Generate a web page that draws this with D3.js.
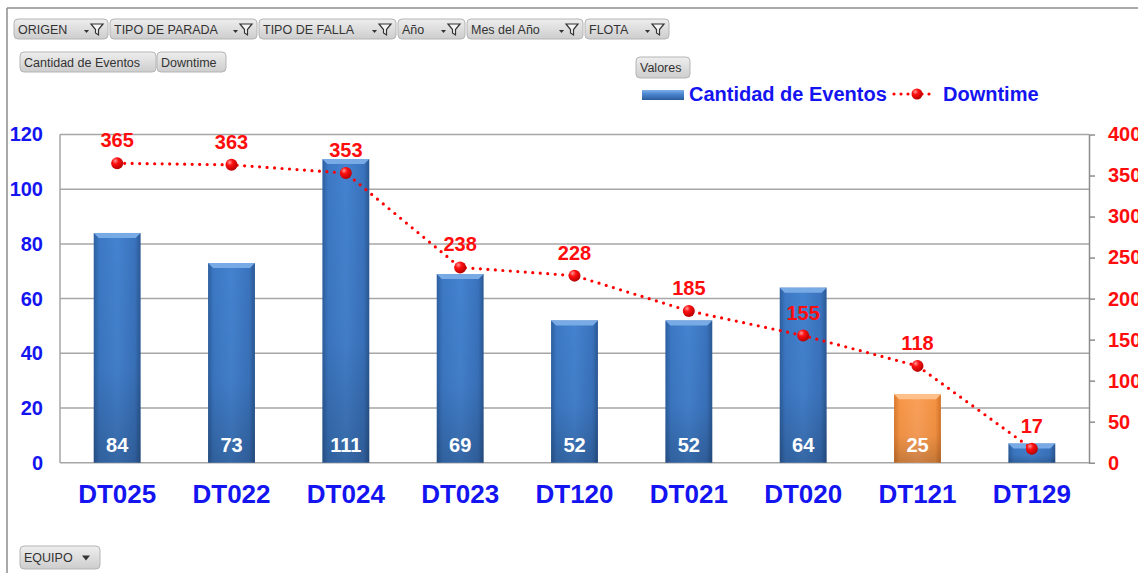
<!DOCTYPE html>
<html>
<head>
<meta charset="utf-8">
<script src="https://cdn.jsdelivr.net/npm/d3@7"></script>
<style>
  body { margin: 0; background: #fff; }
  svg { display: block; }
</style>
</head>
<body>
<div id="chart"></div>
<script>
var equipos = ["DT025", "DT022", "DT024", "DT023", "DT120", "DT021", "DT020", "DT121", "DT129"];
var cantidadEventos = [84, 73, 111, 69, 52, 52, 64, 25, 7];
var downtime = [365, 363, 353, 238, 228, 185, 155, 118, 17];
var leftTicks = [0, 20, 40, 60, 80, 100, 120];
var rightTicks = [0, 50, 100, 150, 200, 250, 300, 350, 400];
var filtros = ["ORIGEN", "TIPO DE PARADA", "TIPO DE FALLA", "Año", "Mes del Año", "FLOTA"];
var filtroAnchos = [94, 147, 137, 67, 116, 84];
var valoresBotones = ["Cantidad de Eventos", "Downtime"];
var resaltado = "DT121";

drawChart();

function drawChart() {
  var w = 1138, h = 573;
  var pLeft = 60, pRight = 1089, pTop = 134.5, pBottom = 462.7;
  var font = "Liberation Sans, Arial, sans-serif";

  var svg = d3.select("#chart").append("svg")
    .attr("width", w)
    .attr("height", h);

  var defs = svg.append("defs");

  function grad(id, vertical, stops) {
    var g = defs.append("linearGradient").attr("id", id)
      .attr("x1", "0").attr("y1", "0")
      .attr("x2", vertical ? "0" : "1").attr("y2", vertical ? "1" : "0");
    stops.forEach(function(s) {
      g.append("stop").attr("offset", s[0]).attr("stop-color", s[1]);
    });
  }
  grad("barBlue", false, [[0, "#2d5f9f"], [0.12, "#3c78c4"], [0.5, "#4482cf"], [0.88, "#3a73bd"], [1, "#2a5894"]]);
  grad("barOrange", false, [[0, "#d9782e"], [0.12, "#f79646"], [0.5, "#fba05a"], [0.88, "#f59342"], [1, "#d4742b"]]);
  grad("shadeDown", true, [[0, "rgba(0,0,0,0)"], [0.6, "rgba(0,0,0,0.04)"], [1, "rgba(0,0,0,0.2)"]]);
  grad("btnGrad", true, [[0, "#eeeeee"], [1, "#cdcdcd"]]);
  grad("legendBar", true, [[0, "#7fb0e8"], [0.4, "#4a86d0"], [1, "#2c5c9c"]]);
  var rg = defs.append("radialGradient").attr("id", "dotGrad")
    .attr("cx", "0.35").attr("cy", "0.3").attr("r", "0.75");
  rg.append("stop").attr("offset", 0).attr("stop-color", "#ff9a9a");
  rg.append("stop").attr("offset", 0.35).attr("stop-color", "#ff1010");
  rg.append("stop").attr("offset", 1).attr("stop-color", "#b00000");

  // marco
  svg.append("line").attr("x1", 7).attr("x2", 7).attr("y1", 8).attr("y2", h)
    .attr("stroke", "#8c8c8c").attr("stroke-width", 1.5);
  svg.append("line").attr("x1", 7).attr("x2", w).attr("y1", 8).attr("y2", 8)
    .attr("stroke", "#8c8c8c").attr("stroke-width", 1.5);

  // botones de filtro
  function boton(x, y, bw, bh, texto, icono) {
    var g = svg.append("g").attr("transform", "translate(" + x + "," + y + ")");
    g.append("rect").attr("width", bw).attr("height", bh).attr("rx", 4)
      .attr("fill", "url(#btnGrad)").attr("stroke", "#b5b5b5");
    g.append("text").attr("x", 4).attr("y", bh / 2 + 4.5)
      .attr("font-family", font)
      .attr("font-size", "12.5px").attr("fill", "#333").text(texto);
    if (icono === "filtro") {
      var ix = bw - 24;
      g.append("path").attr("d", "M" + ix + "," + (bh / 2 + 1) + " l5,0 l-2.5,3 z").attr("fill", "#333");
      g.append("path")
        .attr("d", "M" + (ix + 7) + "," + (bh / 2 - 5) + " l12,0 l-4.5,5.5 l0,5.5 l-3,-2 l0,-3.5 z")
        .attr("fill", "#f4f4f4").attr("stroke", "#333").attr("stroke-width", 1.2);
    } else if (icono === "flecha") {
      g.append("path").attr("d", "M" + (bw - 18) + "," + (bh / 2 - 2) + " l8,0 l-4,5 z").attr("fill", "#333");
    }
  }
  var fx = 14;
  filtros.forEach(function(f, i) {
    boton(fx, 19, filtroAnchos[i], 20, f, "filtro");
    fx += filtroAnchos[i] + 2;
  });
  boton(20, 52, 136, 20, valoresBotones[0]);
  boton(157, 52, 69, 20, valoresBotones[1]);
  boton(636, 57, 54, 21, "Valores");
  boton(20, 546, 80, 23, "EQUIPO", "flecha");

  // escalas
  var xScale = d3.scaleBand()
    .domain(equipos)
    .range([pLeft, pRight])
    .paddingInner(0.59)
    .paddingOuter(0.295);

  var yLeft = d3.scaleLinear().domain([0, 120]).range([pBottom, pTop]);
  var yRight = d3.scaleLinear().domain([0, 400]).range([pBottom, pTop]);

  // cuadrícula
  svg.append("g").selectAll("line")
    .data(leftTicks)
    .enter().append("line")
    .attr("x1", pLeft).attr("x2", pRight)
    .attr("y1", function(d) { return yLeft(d); })
    .attr("y2", function(d) { return yLeft(d); })
    .attr("stroke", "#a6a6a6").attr("stroke-width", 1.5);

  svg.append("line").attr("x1", pLeft).attr("x2", pLeft).attr("y1", pTop).attr("y2", pBottom)
    .attr("stroke", "#a6a6a6").attr("stroke-width", 1.5);

  // eje izquierdo
  var axL = svg.append("g")
    .attr("transform", "translate(" + pLeft + ",0)")
    .call(d3.axisLeft(yLeft).tickValues(leftTicks).tickSize(0).tickPadding(17));
  axL.select(".domain").remove();
  axL.selectAll("text")
    .attr("font-family", font)
    .attr("font-size", "20px").attr("font-weight", "bold").attr("fill", "#1414f0");

  // eje derecho
  var axR = svg.append("g")
    .attr("transform", "translate(" + pRight + ",0)")
    .call(d3.axisRight(yRight).tickValues(rightTicks).tickSize(6).tickPadding(13).tickSizeOuter(0));
  axR.select(".domain").attr("stroke", "#8c8c8c").attr("stroke-width", 1.5);
  axR.selectAll(".tick line").attr("stroke", "#8c8c8c").attr("stroke-width", 1.5);
  axR.selectAll("text")
    .attr("font-family", font)
    .attr("font-size", "20px").attr("font-weight", "bold").attr("fill", "#ff0d0d");

  // eje inferior
  var axB = svg.append("g")
    .attr("transform", "translate(0," + pBottom + ")")
    .call(d3.axisBottom(xScale).tickSize(0).tickPadding(22));
  axB.select(".domain").remove();
  axB.selectAll("text")
    .attr("font-family", font)
    .attr("font-size", "26px").attr("font-weight", "bold").attr("fill", "#1414f0");

  // barras
  var barData = equipos.map(function(e, i) { return { equipo: e, valor: cantidadEventos[i] }; });
  var bars = svg.append("g").selectAll("g")
    .data(barData)
    .enter().append("g");

  bars.append("rect")
    .attr("x", function(d) { return xScale(d.equipo); })
    .attr("y", function(d) { return yLeft(d.valor); })
    .attr("width", xScale.bandwidth())
    .attr("height", function(d) { return pBottom - yLeft(d.valor); })
    .attr("fill", function(d) { return d.equipo === resaltado ? "url(#barOrange)" : "url(#barBlue)"; });

  bars.append("rect")
    .attr("x", function(d) { return xScale(d.equipo); })
    .attr("y", function(d) { return yLeft(d.valor); })
    .attr("width", xScale.bandwidth())
    .attr("height", function(d) { return pBottom - yLeft(d.valor); })
    .attr("fill", "url(#shadeDown)");

  // bisel superior
  bars.append("path")
    .attr("d", function(d) {
      var x0 = xScale(d.equipo), x1 = x0 + xScale.bandwidth(), y0 = yLeft(d.valor);
      return "M" + x0 + "," + y0 + " L" + x1 + "," + y0 + " L" + (x1 - 5) + "," + (y0 + 5) +
        " L" + (x0 + 5) + "," + (y0 + 5) + " Z";
    })
    .attr("fill", function(d) { return d.equipo === resaltado ? "#ffc08a" : "#78aae6"; });

  bars.append("text")
    .attr("x", function(d) { return xScale(d.equipo) + xScale.bandwidth() / 2; })
    .attr("y", pBottom - 11)
    .attr("text-anchor", "middle")
    .attr("font-family", font)
    .attr("font-size", "20px").attr("font-weight", "bold")
    .attr("fill", "#ffffff")
    .text(function(d) { return d.valor; });

  // línea de downtime
  var lineData = equipos.map(function(e, i) { return { equipo: e, valor: downtime[i] }; });
  var cx = function(d) { return xScale(d.equipo) + xScale.bandwidth() / 2; };

  var line = d3.line()
    .x(cx)
    .y(function(d) { return yRight(d.valor); });

  svg.append("path")
    .datum(lineData)
    .attr("fill", "none")
    .attr("stroke", "#ff0000")
    .attr("stroke-width", 3.2)
    .attr("stroke-linecap", "round")
    .attr("stroke-dasharray", "0,7.5")
    .attr("d", line);

  svg.append("g").selectAll("circle")
    .data(lineData)
    .enter().append("circle")
    .attr("cx", cx)
    .attr("cy", function(d) { return yRight(d.valor); })
    .attr("r", 6)
    .attr("fill", "url(#dotGrad)");

  svg.append("g").selectAll("text")
    .data(lineData)
    .enter().append("text")
    .attr("x", cx)
    .attr("y", function(d) { return yRight(d.valor) - 16; })
    .attr("text-anchor", "middle")
    .attr("font-family", font)
    .attr("font-size", "20px").attr("font-weight", "bold")
    .attr("fill", "#ff0d0d")
    .text(function(d) { return d.valor; });

  // leyenda
  var leg = svg.append("g");
  leg.append("rect").attr("x", 642).attr("y", 90).attr("width", 42).attr("height", 10)
    .attr("fill", "url(#legendBar)");
  leg.append("text").attr("x", 689).attr("y", 101)
    .attr("font-family", font)
    .attr("font-size", "20px").attr("font-weight", "bold").attr("fill", "#1414f0")
    .text("Cantidad de Eventos");
  leg.append("line").attr("x1", 894).attr("x2", 936).attr("y1", 94).attr("y2", 94)
    .attr("stroke", "#ff0000").attr("stroke-width", 3.2)
    .attr("stroke-linecap", "round").attr("stroke-dasharray", "0,7");
  leg.append("circle").attr("cx", 917).attr("cy", 94).attr("r", 5.5).attr("fill", "url(#dotGrad)");
  leg.append("text").attr("x", 943).attr("y", 101)
    .attr("font-family", font)
    .attr("font-size", "20px").attr("font-weight", "bold").attr("fill", "#1414f0")
    .text("Downtime");
}
</script>
</body>
</html>
